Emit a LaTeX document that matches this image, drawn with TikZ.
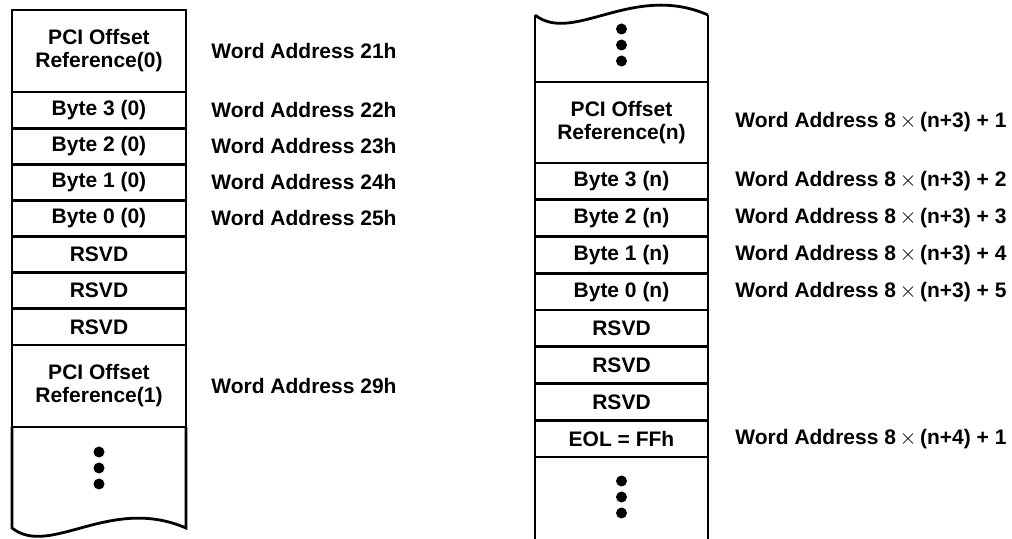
\documentclass[tikz,border=0pt]{standalone}
\usepackage{fontspec}
\setmainfont{Liberation Sans}
\begin{document}
\begin{tikzpicture}%
	[x=0.5pt,
	y=-0.5pt,
	edge/.style={draw=black, line width=1.4pt},
	cell/.style={edge, rectangle, inner sep=0pt, outer sep=0pt, align=center, minimum height=18.07pt,
		font=\bfseries\fontsize{10.5}{11.5}\selectfont},
	leftcell/.style={cell, minimum width=87pt},
	rightcell/.style={cell, minimum width=86.5pt, minimum height=18.375pt},
	addr/.style={anchor=west, inner sep=0pt, font=\bfseries\fontsize{10.5}{11.5}\selectfont},
	dot/.style={circle, fill=black, inner sep=0pt, minimum size=5.5pt}]
%
\useasboundingbox (0,0) rectangle (1012,539);
%
%% Coordinates of the torn ends:
%%
\coordinate (lbw) at (12,528);
\coordinate (lbe) at (186,528);
\coordinate (rtw) at (535,15);
\coordinate (rte) at (708,15);
\coordinate (rbw) at (535,545);
\coordinate (rbe) at (708,545);
%%
%%
%% Left table
%%
\node[leftcell, minimum height=41pt] (L0) at (99,51) {PCI Offset\\Reference(0)};
\node[leftcell] (L1) at (99,110.07) {Byte 3 (0)};
\node[leftcell] (L2) at (99,146.21) {Byte 2 (0)};
\node[leftcell] (L3) at (99,182.35) {Byte 1 (0)};
\node[leftcell] (L4) at (99,218.49) {Byte 0 (0)};
\node[leftcell] (L5) at (99,254.63) {RSVD};
\node[leftcell] (L6) at (99,290.77) {RSVD};
\node[leftcell] (L7) at (99,326.91) {RSVD};
\node[leftcell, minimum height=41pt] (L8) at (99,386) {PCI Offset\\Reference(1)};
\draw[edge] (L8.south west) -- (lbw) .. controls (50,558) and (110,495) .. (lbe) -- (L8.south east);
\node[dot] (ld1) at (99,452) {};
\node[dot] (ld2) at (99,468) {};
\node[dot] (ld3) at (99,484) {};
%%
%%
%% Right table
%%
\draw[edge] (rtw) .. controls (573,45) and (633,-18) .. (rte);
\node[rightcell, minimum height=40.5pt] (R0) at (621.5,122.5) {PCI Offset\\Reference(n)};
\draw[edge] (R0.north west) -- (rtw);
\draw[edge] (R0.north east) -- (rte);
\node[rightcell] (R1) at (621.5,181.375) {Byte 3 (n)};
\node[rightcell] (R2) at (621.5,218.125) {Byte 2 (n)};
\node[rightcell] (R3) at (621.5,254.875) {Byte 1 (n)};
\node[rightcell] (R4) at (621.5,291.625) {Byte 0 (n)};
\node[rightcell] (R5) at (621.5,328.375) {RSVD};
\node[rightcell] (R6) at (621.5,365.125) {RSVD};
\node[rightcell] (R7) at (621.5,401.875) {RSVD};
\node[rightcell] (R8) at (621.5,438.625) {EOL = FFh};
\draw[edge] (R8.south west) -- (rbw);
\draw[edge] (R8.south east) -- (rbe);
\node[dot] (rd1) at (621.5,29) {};
\node[dot] (rd2) at (621.5,45) {};
\node[dot] (rd3) at (621.5,61) {};
\node[dot] (rd4) at (621.5,481) {};
\node[dot] (rd5) at (621.5,497) {};
\node[dot] (rd6) at (621.5,513) {};
%%
%%
%% Word addresses
%%
\node[addr] (a21) at (211,51) {Word Address 21h};
\node[addr] (a22) at (211,110.07) {Word Address 22h};
\node[addr] (a23) at (211,146.21) {Word Address 23h};
\node[addr] (a24) at (211,182.35) {Word Address 24h};
\node[addr] (a25) at (211,218.49) {Word Address 25h};
\node[addr] (a29) at (211,386) {Word Address 29h};
\node[addr] (an1) at (735,122.5) {Word Address 8\,$\times$\,(n+3) + 1};
\node[addr] (an2) at (735,181.375) {Word Address 8\,$\times$\,(n+3) + 2};
\node[addr] (an3) at (735,218.125) {Word Address 8\,$\times$\,(n+3) + 3};
\node[addr] (an4) at (735,254.875) {Word Address 8\,$\times$\,(n+3) + 4};
\node[addr] (an5) at (735,291.625) {Word Address 8\,$\times$\,(n+3) + 5};
\node[addr] (an9) at (735,438.625) {Word Address 8\,$\times$\,(n+4) + 1};
%%
%%
\end{tikzpicture}
\end{document}
